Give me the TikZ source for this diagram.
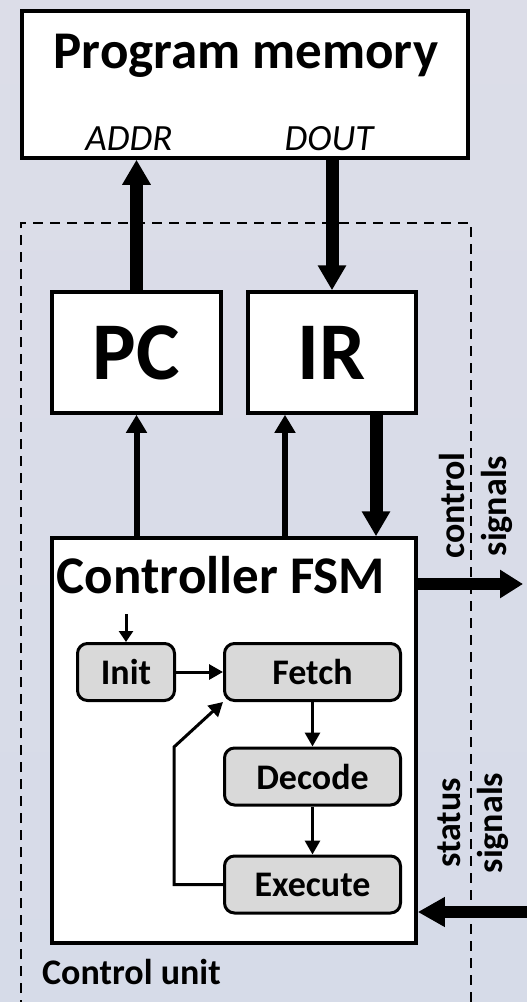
\documentclass[tikz,border=0pt]{standalone}
\usepackage{fontspec}
\setmainfont{Carlito}
\usetikzlibrary{arrows.meta}

\definecolor{fondo}{RGB}{214,219,232}
\definecolor{fondoalto}{RGB}{220,221,232}
\definecolor{gris}{RGB}{217,217,217}

\begin{document}
\begin{tikzpicture}[x=1pt, y=-1pt,
    caja/.style={draw, line width=3.5pt, fill=white, inner sep=0pt},
    estado/.style={draw, line width=3pt, fill=gris, rounded corners=10pt,
        minimum width=176pt, minimum height=57pt, inner sep=0pt,
        font=\fontsize{36}{38}\selectfont\bfseries},
    bus/.style={line width=13pt, -{Triangle[length=25pt,width=27pt]}},
    hilo/.style={line width=6pt, -{Triangle[length=18pt,width=20pt]}},
    flecha/.style={line width=3pt, -{Triangle[length=14pt,width=15pt]}},
    puerto/.style={anchor=base, inner sep=0pt, font=\fontsize{37}{39}\selectfont\itshape},
    senal/.style={rotate=90, inner sep=0pt, font=\fontsize{36}{38}\selectfont\bfseries}]

    %fondo
    \useasboundingbox (0,0) rectangle (527,1002);
    \shade[top color=fondoalto, bottom color=fondo] (0,0) rectangle (527,1002);

    %unidad de control (sin borde abajo)
    \draw[line width=2.5pt, dash pattern=on 10pt off 7pt] (21,1010) |- (471,223) -- (471,1010);
    \node[anchor=base west, inner sep=0pt, font=\fontsize{36}{38}\selectfont\bfseries]
        (cu) at (42,984) {Control unit};

    %memoria de programa
    \node[caja, minimum width=446pt, minimum height=147pt] (pm) at (245,84.5) {};
    \node[anchor=base, inner sep=0pt, font=\fontsize{53}{55}\selectfont\bfseries]
        (pmtit) at (246,68) {Program memory};
    \node[puerto] (addr) at (129,150) {ADDR};
    \node[puerto] (dout) at (329,150) {DOUT};

    %registros
    \node[caja, minimum width=169pt, minimum height=121pt,
        font=\fontsize{82}{84}\selectfont\bfseries] (pc) at (136.5,352.5) {PC};
    \node[caja, minimum width=168pt, minimum height=121pt,
        font=\fontsize{82}{84}\selectfont\bfseries] (ir) at (332,352.5) {IR};

    %maquina de estados
    \node[caja, minimum width=364pt, minimum height=405pt] (fsm) at (234,740.5) {};
    \node[anchor=base, inner sep=0pt, font=\fontsize{53}{55}\selectfont\bfseries]
        (fsmtit) at (221,593) {Controller FSM};

    \node[estado, minimum width=97pt] (init) at (126,672) {Init};
    \node[estado] (fetch) at (312.5,672) {Fetch};
    \node[estado] (decode) at (312.5,776.5) {Decode};
    \node[estado] (execute) at (312.5,884.5) {Execute};

    %buses
    \draw[bus] (pc.north) -- (pc.north |- pm.south);
    \draw[bus] (pm.south -| ir.north) -- (ir.north);
    \draw[bus] ([xshift=44pt]ir.south) -- ([xshift=44pt]ir.south |- fsm.north);
    \draw[hilo] (fsm.north -| pc.south) -- (pc.south);
    \draw[hilo] ([xshift=-47pt]ir.south |- fsm.north) -- ([xshift=-47pt]ir.south);

    %senales
    \coordinate (ctlout) at (523,584);
    \coordinate (stsin) at (530,912);
    \draw[bus, -{Triangle[length=23pt,width=27pt]}, line width=12pt]
        (fsm.east |- ctlout) -- (ctlout);
    \draw[bus, -{Triangle[length=27pt,width=28pt]}, line width=12pt]
        (stsin) -- (stsin -| fsm.east);
    \node[senal] (ctl1) at (451.5,505.5) {control};
    \node[senal] (ctl2) at (496.5,506) {signals};
    \node[senal] (sts1) at (449.5,823) {status};
    \node[senal] (sts2) at (492.5,823) {signals};

    %transiciones
    \coordinate (reset) at (126,614);
    \draw[flecha, -{Triangle[length=11pt,width=14pt]}] (reset) -- (init.north);
    \draw[flecha] (init.east) -- (fetch.west);
    \draw[flecha] (fetch.south) -- (decode.north);
    \draw[flecha] (decode.south) -- (execute.north);
    \draw[flecha] (execute.west) -| (174,747) -- (fetch.south west);

\end{tikzpicture}
\end{document}
